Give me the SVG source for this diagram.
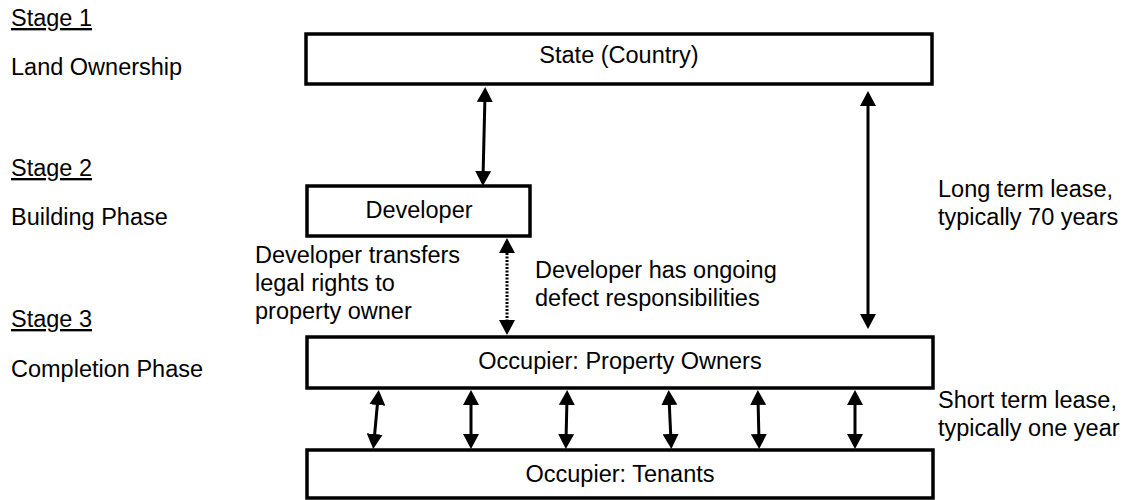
<svg xmlns="http://www.w3.org/2000/svg" width="1123" height="500" viewBox="0 0 1123 500">
<defs>
<marker id="ah" viewBox="0 0 15 16" refX="7" refY="8" markerWidth="15" markerHeight="16" markerUnits="userSpaceOnUse" orient="auto-start-reverse">
<path d="M0,0 L15,8 L0,16 z" fill="#000"/>
</marker>
</defs>
<style>
text{font-family:"Liberation Sans",Arial,sans-serif;font-size:23.5px;fill:#000}
.box{fill:#fff;stroke:#000;stroke-width:3.5}
.c{text-anchor:middle}
.u{text-decoration:underline}
.conn{stroke:#000;stroke-width:3;fill:none;marker-start:url(#ah);marker-end:url(#ah)}
.dot{stroke-dasharray:2 1.5}
</style>
<rect width="1123" height="500" fill="#fff"/>
<g id="labels">
<text x="11" y="26" class="u">Stage 1</text>
<text x="11" y="75">Land Ownership</text>
<text x="11" y="176" class="u">Stage 2</text>
<text x="11" y="225">Building Phase</text>
<text x="11" y="327" class="u">Stage 3</text>
<text x="11" y="377">Completion Phase</text>
<text x="255" y="263">Developer transfers</text>
<text x="255" y="291">legal rights to</text>
<text x="255" y="319">property owner</text>
<text x="535" y="278">Developer has ongoing</text>
<text x="535" y="306">defect responsibilities</text>
<text x="938" y="197">Long term lease,</text>
<text x="938" y="225">typically 70 years</text>
<text x="938" y="408">Short term lease,</text>
<text x="938" y="436">typically one year</text>
</g>
<g id="state">
<rect class="box" x="306" y="34" width="626" height="50"/>
<text class="c" x="619" y="63">State (Country)</text>
</g>
<g id="developer">
<rect class="box" x="307" y="186" width="223" height="50"/>
<text class="c" x="419" y="218">Developer</text>
</g>
<g id="owners">
<rect class="box" x="307" y="337" width="626" height="51"/>
<text class="c" x="620" y="369">Occupier: Property Owners</text>
</g>
<g id="tenants">
<rect class="box" x="307" y="450" width="626" height="48"/>
<text class="c" x="620" y="482">Occupier: Tenants</text>
</g>
<g id="connectors">
<line class="conn" x1="485" y1="95" x2="483" y2="178"/>
<line class="conn" x1="868" y1="99" x2="868" y2="321"/>
<line class="conn dot" x1="507" y1="246" x2="507" y2="327"/>
<line class="conn" x1="378" y1="398" x2="374" y2="441"/>
<line class="conn" x1="471" y1="398" x2="471" y2="441"/>
<line class="conn" x1="567" y1="398" x2="566" y2="441"/>
<line class="conn" x1="669" y1="398" x2="671" y2="441"/>
<line class="conn" x1="758" y1="398" x2="759" y2="441"/>
<line class="conn" x1="855" y1="398" x2="855" y2="441"/>
</g>
</svg>
